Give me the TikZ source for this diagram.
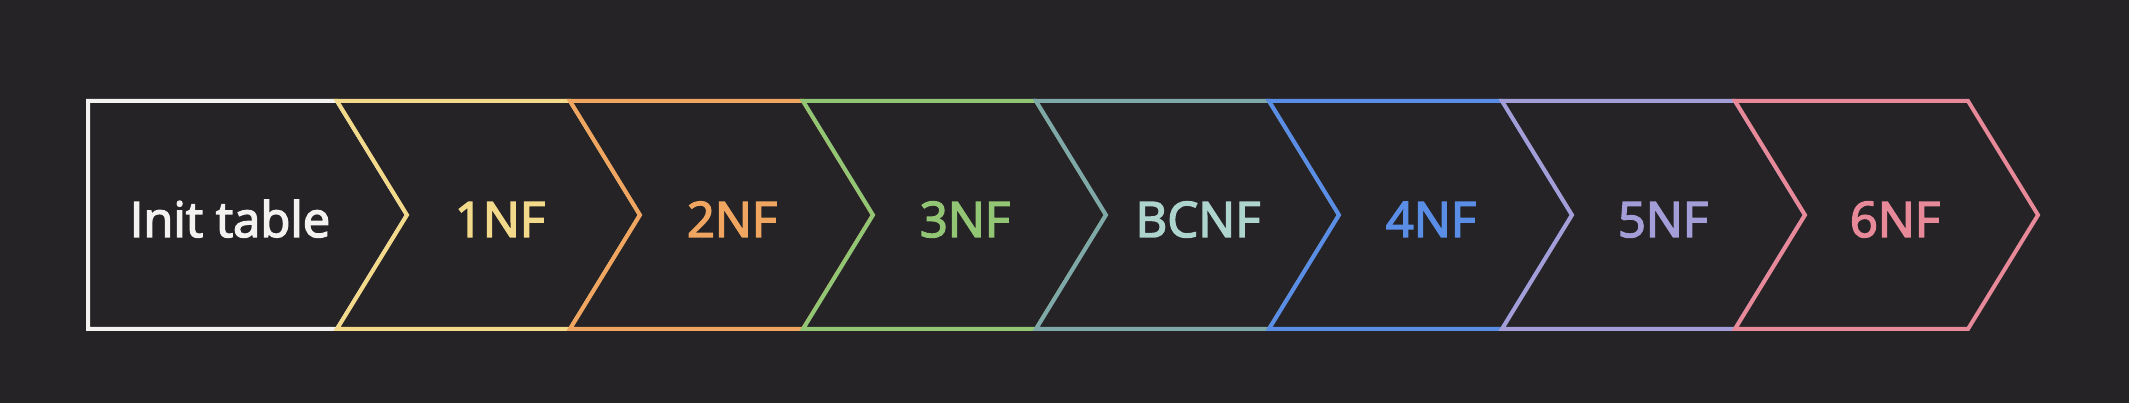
\documentclass[tikz,border=0pt]{standalone}
\usepackage{fontspec}
\setmainfont{Open Sans}
\newfontfamily\lblfont{Open Sans}[FakeBold=3]
\definecolor{bg}{HTML}{252326}
\definecolor{c0}{HTML}{F4F2F0}
\definecolor{c1}{HTML}{F3D98A}
\definecolor{c2}{HTML}{F0A660}
\definecolor{c3}{HTML}{93C674}
\definecolor{c4}{HTML}{7FA9A8}
\definecolor{t4}{HTML}{AED4CE}
\definecolor{c5}{HTML}{5A8DE6}
\definecolor{c6}{HTML}{A49ED8}
\definecolor{c7}{HTML}{E8899A}
\tikzset{
  chev/.style={draw=#1, line width=4pt, line join=miter, fill=bg},
  lbl/.style={text=#1, anchor=base, inner sep=0pt, font=\fontsize{49}{49}\selectfont\lblfont}
}
\begin{document}
\begin{tikzpicture}[x=1pt,y=-1pt]
\fill[bg] (0,0) rectangle (2129,403);
\useasboundingbox (0,0) rectangle (2129,403);
% box 0
\draw[chev=c0] (88,101) -- (337,101) -- (407,215) -- (337,329) -- (88,329) -- cycle;
% boxes 1..7
\foreach \i/\c in {1/c1,2/c2,3/c3,4/c4,5/c5,6/c6,7/c7}{
  \pgfmathsetmacro{\xa}{337+233*(\i-1)}
  \pgfmathsetmacro{\xb}{\xa+233}
  \draw[chev=\c] (\xa,101) -- (\xb,101) -- (\xb+70,215) -- (\xb,329) -- (\xa,329) -- (\xa+70,215) -- cycle;
}
\node[lbl=c0] (init) at (230,237) {Init table};
\node[lbl=c1] (nf1) at (500,237) {1NF};
\node[lbl=c2] (nf2) at (732,237) {2NF};
\node[lbl=c3] (nf3) at (965,237) {3NF};
\node[lbl=t4] (bcnf) at (1198,237) {BCNF};
\node[lbl=c5] (nf4) at (1431,237) {4NF};
\node[lbl=c6] (nf5) at (1663,237) {5NF};
\node[lbl=c7] (nf6) at (1895,237) {6NF};
\end{tikzpicture}
\end{document}
